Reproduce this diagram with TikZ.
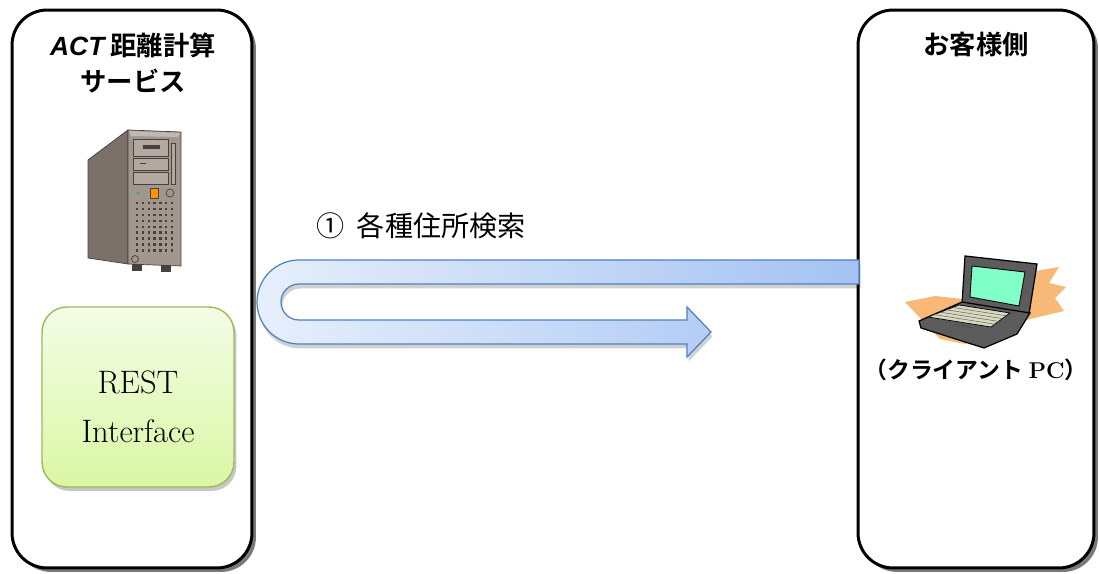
\documentclass[tikz,border=0pt]{standalone}
\usepackage{fontspec}
\newfontfamily\jpfont{Noto Sans CJK JP}[BoldFont={Noto Sans CJK JP Bold}]
\newfontfamily\latinsans{Liberation Sans}
\usetikzlibrary{shadows}

\definecolor{boxshadow}{HTML}{7A7A7A}
\definecolor{resttop}{HTML}{F4FCE6}
\definecolor{restbottom}{HTML}{DAF7A4}
\definecolor{restborder}{HTML}{9BBB59}
\definecolor{flowleft}{HTML}{E6EFFC}
\definecolor{flowright}{HTML}{A4C2F3}
\definecolor{flowborder}{HTML}{4F81BD}
\definecolor{srvfront}{HTML}{A2978F}
\definecolor{srvside}{HTML}{7B706A}
\definecolor{srvtop}{HTML}{C2B8B2}
\definecolor{srvline}{HTML}{4A403B}
\definecolor{srvbay}{HTML}{B3A9A3}
\definecolor{lapbody}{HTML}{5C5C5C}
\definecolor{lapscreen}{HTML}{80FFC8}
\definecolor{lapkeys}{HTML}{D9D9BF}
\definecolor{lapbrush}{HTML}{F8B878}

\tikzset{
  container/.style={draw=black, line width=1.7pt, fill=white, rounded corners=0.7cm,
    minimum height=11.16cm, inner sep=0pt,
    drop shadow={shadow xshift=0.08cm, shadow yshift=-0.08cm, fill=boxshadow, opacity=1}},
  titletext/.style={align=center, font=\jpfont\bfseries\fontsize{15}{20}\selectfont},
  restbox/.style={draw=restborder, line width=0.8pt, rounded corners=0.5cm,
    top color=resttop, bottom color=restbottom,
    minimum width=3.84cm, minimum height=3.6cm,
    drop shadow={shadow xshift=0.05cm, shadow yshift=-0.08cm, fill=black, opacity=0.22}},
  resttext/.style={align=center, font=\fontsize{18.5}{28}\selectfont},
  flowarrow/.style={draw=flowborder, line width=0.7pt, left color=flowleft, right color=flowright,
    drop shadow={shadow xshift=0.03cm, shadow yshift=-0.09cm, fill=black, opacity=0.18}},
  srvpart/.style={draw=srvline, line width=0.4pt},
  lappart/.style={draw=black, line width=0.7pt}
}

\begin{document}
\begin{tikzpicture}[x=0.02cm, y=-0.02cm]
                \useasboundingbox (0,0) rectangle (1099,574);

                % Drawing container service
                \node [container, minimum width=4.8cm] (service) at (132,289) {};%

                % Drawing container client
                \node [container, minimum width=4.72cm] (client) at (976,289) {};%

                % Marking title service
                \node [titletext] (servicetitle) at (133,63) {{\latinsans\bfseries\itshape ACT} 距離計算\\サービス};%

                % Marking title client
                \node [titletext] (clienttitle) at (976,45) {お客様側};%

                % Drawing server side panel
                \filldraw [srvpart, fill=srvside] (88,160) -- (128,130) -- (128,264) -- (88,258) -- cycle;%

                % Drawing server front panel
                \filldraw [srvpart, fill=srvfront] (128,130) -- (181,132) -- (181,266) -- (128,264) -- cycle;%
                \fill [srvtop] (129,131) -- (180,133) -- (178,137) -- (131,136) -- cycle;%

                % Drawing server feet
                \fill [srvline] (132,264) rectangle (142,271);%
                \fill [srvline] (161,265) rectangle (171,272);%

                % Drawing server bays
                \filldraw [srvpart, fill=srvbay] (133,139) rectangle (168,156);%
                \fill [srvline] (143,145) rectangle (160,149);%
                \filldraw [srvpart, fill=srvbay] (133,158) rectangle (168,170);%
                \draw [srvline] (140,163) -- (146,163);%
                \filldraw [srvpart, fill=srvbay] (133,172) rectangle (168,184);%
                \filldraw [srvpart, fill=srvbay] (171,143) rectangle (175,184);%

                % Drawing server buttons
                \fill [green!55!black!70] (138,193) circle (1.8);%
                \filldraw [srvpart, fill=orange!85!yellow] (150,188) rectangle (158,198);%
                \draw [srvline] (170,193) circle (4);%

                % Drawing server vents
                \foreach \i in {0,...,6}
                  \foreach \j in {0,...,8}
                    \fill [srvline] ({136+\i*5.8},{202+\j*5.9}) rectangle +(2.4,2.4);%

                % Drawing server bottom button
                \draw [srvline] (135,259) circle (3.5);%

                % Drawing REST interface
                \node [restbox] (rest) at (138,397) {};%
                \node [resttext] (restlabel) at ([yshift=-0.2cm]rest.center) {REST\\Interface};%

                % Drawing flow arrow
                \path [flowarrow] (859,260) -- (299,260) arc [start angle=270, end angle=90, radius=42]
                  -- (687,344) -- (687,357) -- (711,332) -- (687,307) -- (687,320) -- (299,320)
                  arc [start angle=90, end angle=270, radius=18] -- (859,284) -- cycle;%

                % Marking flow label
                \node [anchor=west, font=\jpfont\fontsize{16}{18}\selectfont] (searchlabel) at (310,226) {① \ 各種住所検索};%

                % Drawing laptop brush
                \fill [lapbrush] (905,302) -- (935,296) -- (962,299) -- (1000,281) -- (1030,272) -- (1059,267)
                  -- (1049,283) -- (1066,287) -- (1055,298) -- (1064,311) -- (1030,319) -- (1000,330)
                  -- (965,344) -- (940,339) -- (924,322) -- cycle;%

                % Drawing laptop lid
                \filldraw [lappart, fill=lapbody] (962,304) -- (965,256) -- (1037,264) -- (1029,314) -- cycle;%
                \filldraw [lappart, fill=lapscreen, line width=0.5pt] (970,297) -- (972,266) -- (1025,272) -- (1019,306) -- cycle;%

                % Drawing laptop base
                \filldraw [lappart, fill=lapbody] (919,321) -- (962,302) -- (1030,313) -- (1017,334) -- (984,348) -- (921,328) -- cycle;%
                \filldraw [lappart, fill=lapkeys, line width=0.4pt] (928,317) -- (959,305) -- (1010,313) -- (991,327) -- cycle;%
                \foreach \k in {1,...,4}
                  \draw [black!60, line width=0.3pt] ({928+\k*6.2},{317-\k*2.4}) -- ({991+\k*3.8},{327-\k*2.8});%
                \draw [black!70, line width=0.5pt] (955,324) -- (972,328);%

                % Marking client label
                \node [font=\jpfont\bfseries\fontsize{13}{15}\selectfont] (clientlabel) at (976,370) {（クライアント {\normalfont\bfseries PC}）};%
\end{tikzpicture}
\end{document}
